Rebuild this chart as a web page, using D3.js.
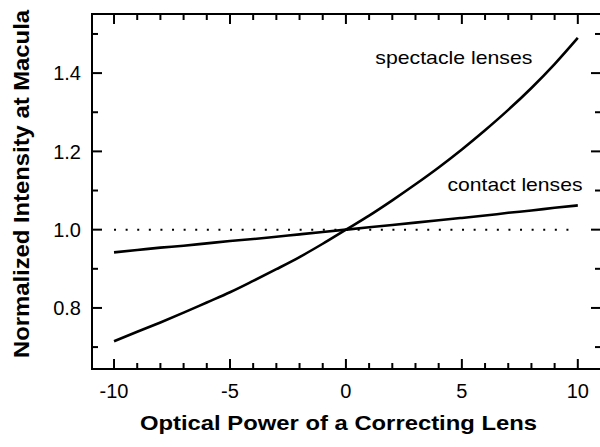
<!DOCTYPE html>
<html>
<head>
<meta charset="utf-8">
<script src="https://cdn.jsdelivr.net/npm/d3@7"></script>
<style>
    html, body { margin: 0; padding: 0; background: #fff; }
    svg { display: block; font-family: "Liberation Sans", Arial, Helvetica, sans-serif; }
</style>
</head>
<body>
<svg id="lens-chart" width="600" height="447"></svg>
<script>
'use strict';

// optical power of the correcting lens (diopters)
let powers = [-10, -9, -8, -7, -6, -5, -4, -3, -2, -1, 0, 1, 2, 3, 4, 5, 6, 7, 8, 9, 10]

// normalized intensity at macula
let spectacleValues = [0.715, 0.739, 0.763, 0.788, 0.814, 0.840, 0.869, 0.899, 0.930, 0.964, 1.000,
                       1.036, 1.075, 1.116, 1.159, 1.205, 1.254, 1.306, 1.362, 1.423, 1.490]
let contactValues = [0.942, 0.948, 0.954, 0.959, 0.965, 0.971, 0.976, 0.982, 0.988, 0.994, 1.000,
                     1.006, 1.012, 1.018, 1.024, 1.030, 1.036, 1.043, 1.049, 1.056, 1.062]

let xTickValues = [-10, -5, 0, 5, 10]
let xTickLabels = ['-10', '-5', '0', '5', '10']
let xMinorTicks = d3.range(-10, 11, 1)
let yTickValues = [0.8, 1.0, 1.2, 1.4]
let yTickLabels = ['0.8', '1.0', '1.2', '1.4']
let yMinorTicks = [0.7, 0.8, 0.9, 1.0, 1.1, 1.2, 1.3, 1.4, 1.5]

let referenceLevel = 1.0
let seriesLabels = [
    {text: 'spectacle lenses', x: 1.27, y: 1.423, len: 157},
    {text: 'contact lenses', x: 4.38, y: 1.098, len: 135}
]

let xTitle = 'Optical Power of a Correcting Lens'
let yTitle = 'Normalized Intensity at Macula'

let chart = (function() {
    let frame = {left: 92, right: 601, top: 14, bottom: 369}

    function render(svgID) {
        let svg = d3.select('#' + svgID)

        let x = d3.scaleLinear().domain([-10.95, 11.0]).range([frame.left, frame.right])
        let y = d3.scaleLinear().domain([0.644, 1.551]).range([frame.bottom, frame.top])

        drawReference(svg, x, y)
        drawSeries(svg, x, y, spectacleValues)
        drawSeries(svg, x, y, contactValues)
        drawFrame(svg, x, y)
        drawLabels(svg, x, y)
    }

    function drawReference(svg, x, y) {
        svg.append('line')
            .attr('x1', x(-10))
            .attr('x2', x(10))
            .attr('y1', y(referenceLevel))
            .attr('y2', y(referenceLevel))
            .attr('stroke', '#000')
            .attr('stroke-width', 2)
            .attr('stroke-dasharray', '2,9.6')
    }

    function drawSeries(svg, x, y, values) {
        let line = d3.line()
            .x(function(d, i) { return x(powers[i]) })
            .y(function(d) { return y(d) })
            .curve(d3.curveMonotoneX)

        svg.append('path')
            .datum(values)
            .attr('fill', 'none')
            .attr('stroke', '#000')
            .attr('stroke-width', 2.6)
            .attr('d', line)
    }

    function tickLength(isMajor) {
        return isMajor ? 10 : 6
    }

    function drawFrame(svg, x, y) {
        let g = svg.append('g')
            .attr('stroke', '#000')
            .attr('stroke-width', 2)

        // spines
        g.append('rect')
            .attr('x', frame.left)
            .attr('y', frame.top)
            .attr('width', frame.right - frame.left)
            .attr('height', frame.bottom - frame.top)
            .attr('fill', 'none')

        // bottom and top ticks point inward
        xMinorTicks.forEach(function(v) {
            let len = tickLength(v % 5 === 0)
            g.append('line')
                .attr('x1', x(v)).attr('x2', x(v))
                .attr('y1', frame.bottom).attr('y2', frame.bottom - len)
            g.append('line')
                .attr('x1', x(v)).attr('x2', x(v))
                .attr('y1', frame.top).attr('y2', frame.top + len)
        })

        yMinorTicks.forEach(function(v) {
            let isMajor = yTickValues.some(function(t) { return Math.abs(t - v) < 1e-6 })
            let len = tickLength(isMajor)
            g.append('line')
                .attr('x1', frame.left).attr('x2', frame.left + len)
                .attr('y1', y(v)).attr('y2', y(v))
            g.append('line')
                .attr('x1', frame.right).attr('x2', frame.right - len)
                .attr('y1', y(v)).attr('y2', y(v))
        })

        svg.append('g')
            .selectAll('text')
            .data(xTickValues)
            .enter().append('text')
            .attr('x', function(d) { return x(d) })
            .attr('y', 398)
            .attr('text-anchor', 'middle')
            .attr('font-size', 20)
            .text(function(d, i) { return xTickLabels[i] })

        svg.append('g')
            .selectAll('text')
            .data(yTickValues)
            .enter().append('text')
            .attr('x', 81)
            .attr('y', function(d) { return y(d) })
            .attr('dy', '0.36em')
            .attr('text-anchor', 'end')
            .attr('font-size', 20)
            .text(function(d, i) { return yTickLabels[i] })
    }

    function drawLabels(svg, x, y) {
        seriesLabels.forEach(function(d) {
            svg.append('text')
                .attr('x', x(d.x))
                .attr('y', y(d.y))
                .attr('font-size', 19)
                .attr('textLength', d.len)
                .attr('lengthAdjust', 'spacingAndGlyphs')
                .text(d.text)
        })

        svg.append('text')
            .attr('x', 140)
            .attr('y', 430)
            .attr('font-size', 21)
            .attr('font-weight', 'bold')
            .attr('textLength', 397)
            .attr('lengthAdjust', 'spacingAndGlyphs')
            .text(xTitle)

        svg.append('text')
            .attr('transform', 'translate(29,358) rotate(-90)')
            .attr('font-size', 22)
            .attr('font-weight', 'bold')
            .attr('textLength', 348)
            .attr('lengthAdjust', 'spacingAndGlyphs')
            .text(yTitle)
    }

    return {
        render
    }
}())

chart.render('lens-chart')
</script>
</body>
</html>
